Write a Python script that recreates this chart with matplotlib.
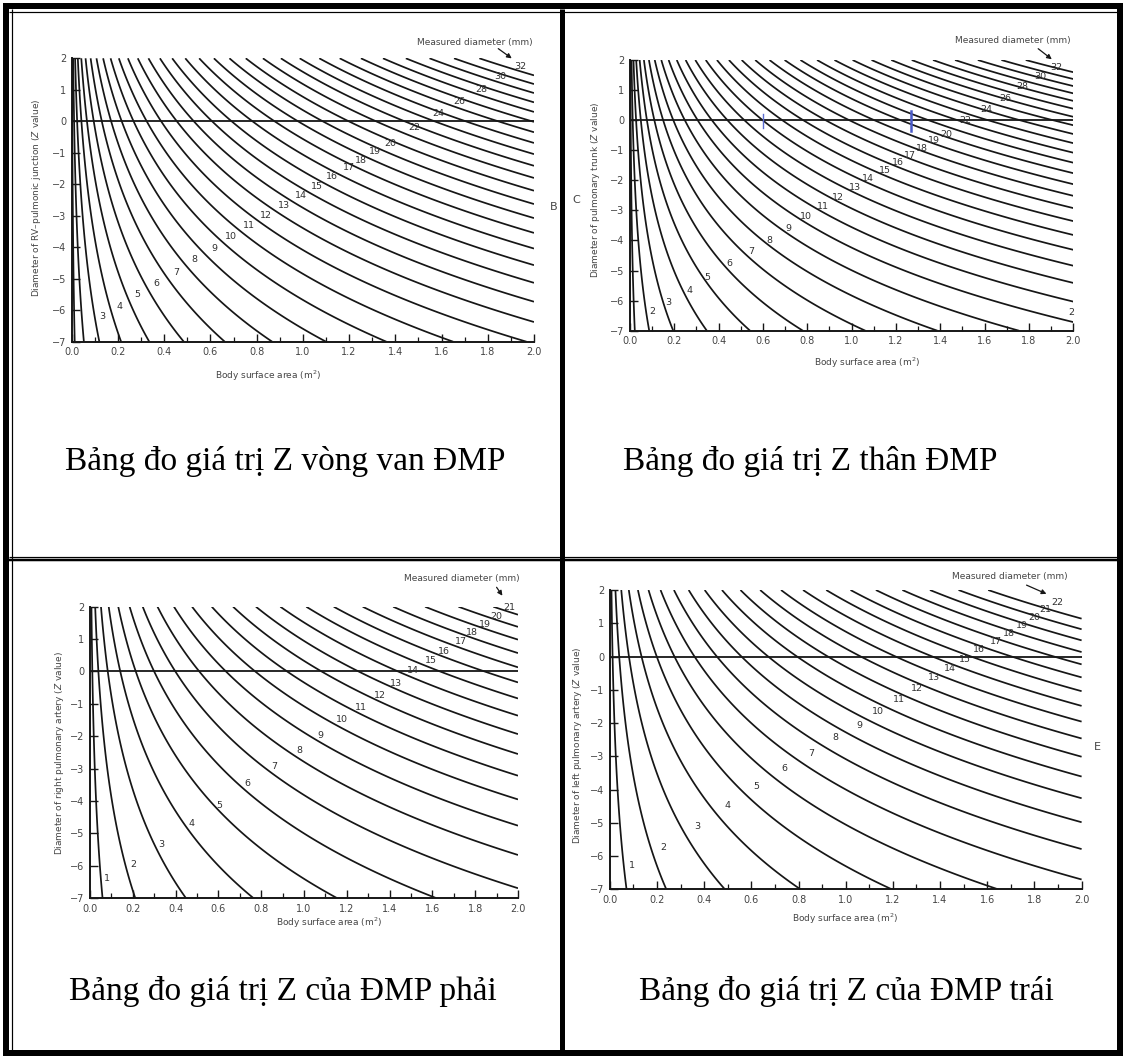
import numpy as np
import matplotlib
matplotlib.use("Agg")
import matplotlib.pyplot as plt
from matplotlib.lines import Line2D
from matplotlib.patches import FancyArrowPatch

W, H = 1126, 1057

# ---------------------------------------------------------------------------
# Nomogram data.  Each panel is a family of iso-diameter curves of
#   ln(d) = ln(mean_at_1) + exponent * ln(BSA) + log_sd * Z
# fit = (mean diameter at BSA 1 m^2 [mm], exponent, SD of ln(diameter))
# ---------------------------------------------------------------------------
valve_diameters = list(range(1, 33))
valve_fit = (19.2, 0.495, 0.115)
valve_labelled = [3, 4, 5, 6, 7, 8, 9, 10, 11, 12, 13, 14, 15, 16, 17, 18, 19, 20,
                  22, 24, 26, 28, 30, 32]

trunk_diameters = list(range(1, 33))
trunk_fit = (18.1, 0.50, 0.14)
trunk_labelled = [2, 3, 4, 5, 6, 7, 8, 9, 10, 11, 12, 13, 14, 15, 16, 17, 18, 19, 20,
                  22, 24, 26, 28, 30, 32]

rpa_diameters = list(range(1, 22))
rpa_fit = (11.5, 0.54, 0.13)
rpa_labelled = list(range(1, 22))

lpa_diameters = list(range(1, 23))
lpa_fit = (12.55, 0.57, 0.146)
lpa_labelled = list(range(1, 23))

bsa_ticks = [0.0, 0.2, 0.4, 0.6, 0.8, 1.0, 1.2, 1.4, 1.6, 1.8, 2.0]
z_ticks = [-7, -6, -5, -4, -3, -2, -1, 0, 1, 2]

captions = ["Bảng đo giá trị Z vòng van ĐMP",
            "Bảng đo giá trị Z thân ĐMP",
            "Bảng đo giá trị Z của ĐMP phải",
            "Bảng đo giá trị Z của ĐMP trái"]

ylabels = ["Diameter of RV\u2013pulmonic junction ($Z$ value)",
           "Diameter of pulmonary trunk ($Z$ value)",
           "Diameter of right pulmonary artery ($Z$ value)",
           "Diameter of left pulmonary artery ($Z$ value)"]

# ---------------------------------------------------------------------------
# Layout (pixel coordinates, origin top-left)
# ---------------------------------------------------------------------------
# axes boxes: (x at BSA 0, x at BSA 2, y at Z=2, y at Z=-7)
boxes = [(71.7, 534.0, 58.3, 341.7),
         (630.0, 1073.3, 60.0, 330.7),
         (90.0, 518.0, 606.7, 898.0),
         (609.8, 1081.6, 590.0, 889.3)]

# curve-label anchor points in data coordinates (BSA, Z)
valve_label_pos = [(0.131, -6.2), (0.205, -5.88), (0.282, -5.5), (0.365, -5.15),
                   (0.45, -4.8), (0.531, -4.4), (0.616, -4.03), (0.69, -3.66),
                   (0.767, -3.31), (0.839, -2.98), (0.919, -2.67), (0.99, -2.36),
                   (1.062, -2.06), (1.127, -1.76), (1.198, -1.48), (1.252, -1.23),
                   (1.313, -0.97), (1.378, -0.70), (1.483, -0.21), (1.586, 0.24),
                   (1.678, 0.63), (1.77, 1.02), (1.855, 1.43), (1.942, 1.74)]
trunk_label_pos = [(0.101, -6.36), (0.174, -6.06), (0.267, -5.66), (0.35, -5.22),
                   (0.448, -4.78), (0.546, -4.38), (0.631, -3.99), (0.716, -3.61),
                   (0.794, -3.19), (0.872, -2.88), (0.94, -2.56), (1.013, -2.24),
                   (1.074, -1.93), (1.152, -1.67), (1.209, -1.41), (1.263, -1.16),
                   (1.315, -0.93), (1.372, -0.69), (1.426, -0.47), (1.514, -0.02),
                   (1.609, 0.37), (1.693, 0.73), (1.768, 1.12), (1.853, 1.44),
                   (1.923, 1.76)]
rpa_label_pos = [(0.08, -6.4), (0.2, -5.95), (0.334, -5.36), (0.476, -4.69),
                 (0.606, -4.13), (0.734, -3.46), (0.861, -2.93), (0.978, -2.44),
                 (1.078, -1.98), (1.178, -1.5), (1.268, -1.1), (1.357, -0.73),
                 (1.432, -0.36), (1.507, 0.02), (1.591, 0.35), (1.652, 0.61),
                 (1.732, 0.94), (1.786, 1.21), (1.844, 1.46), (1.9, 1.71),
                 (1.958, 1.98)]
lpa_label_pos = [(0.095, -6.27), (0.228, -5.74), (0.371, -5.12), (0.5, -4.49),
                 (0.623, -3.91), (0.741, -3.36), (0.855, -2.91), (0.955, -2.44),
                 (1.056, -2.06), (1.136, -1.66), (1.224, -1.29), (1.304, -0.96),
                 (1.376, -0.62), (1.442, -0.36), (1.506, -0.08), (1.564, 0.2),
                 (1.636, 0.45), (1.694, 0.7), (1.748, 0.93), (1.801, 1.18),
                 (1.847, 1.4), (1.898, 1.62)]

ylabel_xy = [(37, 198), (596, 190), (59, 753), (577, 745)]
xlabel_xy = [(268, 376), (867, 363), (329, 923), (845, 919)]
measured_xy = [(475, 42), (1013, 40), (462, 578), (1010, 576)]
arrow_xy = [((496, 47), (514, 60)), ((1036, 47), (1054, 61)),
            ((495, 585), (504, 598)), ((1024, 584), (1049, 595))]
caption_xy = [(285, 470), (810, 470), (283, 1000), (846, 1000)]

INK = "#161616"
GREY = "#454545"


def fx(x):
    return x / W


def fy(y):
    return 1 - y / H


fig = plt.figure(figsize=(W / 100, H / 100), dpi=100)
fig.patch.set_facecolor("white")

# fine BSA grid, dense near zero where the small-diameter curves are steep
bsa = np.unique(np.concatenate([np.geomspace(1e-4, 0.08, 700),
                                np.linspace(0.08, 2.0, 900)]))
zval = np.linspace(-7, 2, 700)
BSA, ZV = np.meshgrid(bsa, zval)

panels = [
    (valve_diameters, valve_fit, valve_labelled, valve_label_pos),
    (trunk_diameters, trunk_fit, trunk_labelled, trunk_label_pos),
    (rpa_diameters, rpa_fit, rpa_labelled, rpa_label_pos),
    (lpa_diameters, lpa_fit, lpa_labelled, lpa_label_pos),
]

for i, (diams, fit, labelled, lpos) in enumerate(panels):
    x0, x1, yt, yb = boxes[i]
    ax = fig.add_axes([fx(x0), fy(yb), (x1 - x0) / W, (yb - yt) / H])
    ax.set_xlim(0, 2)
    ax.set_ylim(-7, 2)
    for s in ("top", "right"):
        ax.spines[s].set_visible(False)
    for s in ("left", "bottom"):
        ax.spines[s].set_linewidth(1.4)
        ax.spines[s].set_color(INK)
    ax.set_xticks(bsa_ticks)
    ax.set_xticklabels([f"{v:.1f}" for v in bsa_ticks])
    ax.set_xticks(np.arange(0.1, 2.0, 0.2), minor=True)
    ax.set_yticks(z_ticks)
    ax.set_yticklabels([("\u2212" + str(-v)) if v < 0 else str(v) for v in z_ticks])
    ax.tick_params(axis="both", which="major", direction="in", length=6, width=1.0,
                   color=INK, labelsize=7, labelcolor=GREY, pad=4)
    ax.tick_params(axis="x", which="minor", direction="in", length=3.5, width=0.9,
                   color=INK)
    ax.patch.set_alpha(0)

    mean1, expo, lsd = fit
    D = mean1 * BSA ** expo * np.exp(lsd * ZV)
    ax.contour(BSA, ZV, D, levels=diams, colors=INK, linewidths=1.25)
    ax.axhline(0, color=INK, lw=1.3)

    for d, (lx, lz) in zip(labelled, lpos):
        ax.text(lx, lz, str(d), fontsize=6.8, color="#303030", ha="center",
                va="center", clip_on=False)

    # axis titles
    fig.text(fx(ylabel_xy[i][0]), fy(ylabel_xy[i][1]), ylabels[i], rotation=90,
             fontsize=6.5, color=GREY, ha="center", va="center")
    fig.text(fx(xlabel_xy[i][0]), fy(xlabel_xy[i][1]), "Body surface area (m$^2$)",
             fontsize=6.5, color=GREY, ha="center", va="center")
    fig.text(fx(measured_xy[i][0]), fy(measured_xy[i][1]), "Measured diameter (mm)",
             fontsize=6.5, color=GREY, ha="center", va="center")
    (ax0, ay0), (ax1, ay1) = arrow_xy[i]
    fig.add_artist(FancyArrowPatch(
        (fx(ax0), fy(ay0)), (fx(ax1), fy(ay1)), transform=fig.transFigure,
        arrowstyle="-|>", mutation_scale=7, lw=0.9, color=INK))

    if i == 1:
        # stray label at the lower right of the trunk chart
        ax.text(1.99, -6.41, "2", fontsize=6.8, color="#303030", ha="center",
                va="center", clip_on=False)
        # blue pen marks on the zero line
        ax.plot([0.6, 0.6], [-0.25, 0.2], color="#5a6bd0", lw=1.0)
        ax.plot([1.27, 1.27], [-0.35, 0.3], color="#4a5bc8", lw=1.8)

# panel letters
fig.text(fx(554), fy(207), "B", fontsize=8, color=GREY, ha="center", va="center")
fig.text(fx(576), fy(200), "C", fontsize=8, color=GREY, ha="center", va="center")
fig.text(fx(1097), fy(747), "E", fontsize=8, color=GREY, ha="center", va="center")

# captions
for (cx, cy), cap in zip(caption_xy, captions):
    fig.text(fx(cx), fy(cy), cap, family="Liberation Serif", fontsize=24,
             color="black", ha="center", va="baseline")


# table borders
def hline(y, x0, x1, lw_px):
    fig.add_artist(Line2D([fx(x0), fx(x1)], [fy(y), fy(y)], transform=fig.transFigure,
                          color="black", lw=lw_px * 0.72, solid_capstyle="butt"))


def vline(x, y0, y1, lw_px):
    fig.add_artist(Line2D([fx(x), fx(x)], [fy(y0), fy(y1)], transform=fig.transFigure,
                          color="black", lw=lw_px * 0.72, solid_capstyle="butt"))


hline(6, 3, 1123, 6)
hline(1053, 3, 1123, 6)
vline(6, 3, 1056, 6)
vline(1120, 3, 1056, 6)
hline(11.5, 9, 1117, 1.2)
vline(11.5, 9, 1050, 1.2)
vline(562, 9, 1050, 5)
hline(556.5, 9, 1117, 1.2)
hline(559.5, 9, 1117, 2.5)

fig.savefig("out.png", dpi=100, facecolor="white")
